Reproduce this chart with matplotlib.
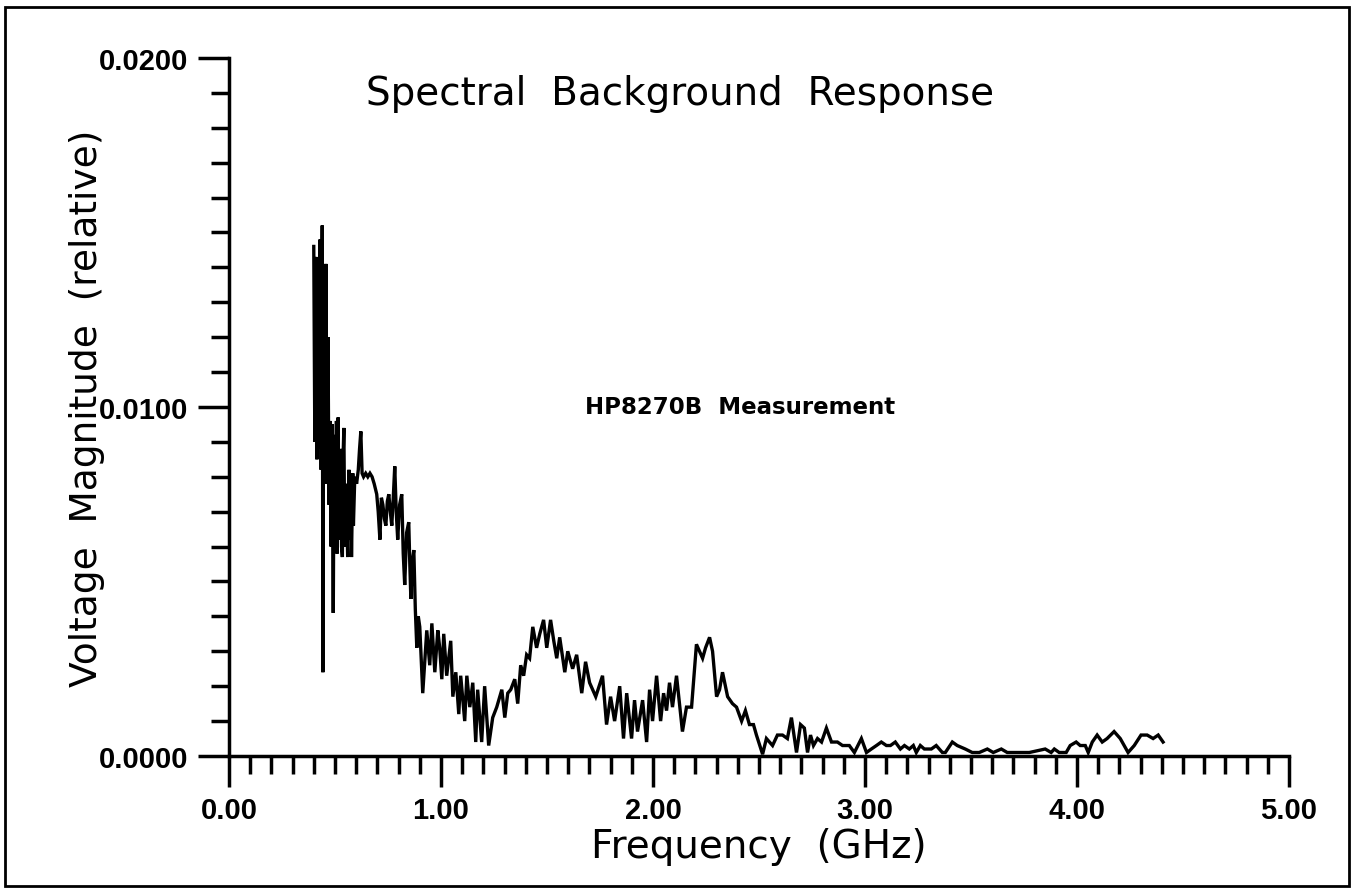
import numpy as np
import matplotlib.pyplot as plt
from matplotlib.patches import Rectangle
from matplotlib.ticker import MultipleLocator, FormatStrFormatter

# HP8270B background sweep: frequency (GHz) and relative magnitude (x 1e-4)
freq_ghz = [
    0.400, 0.405, 0.410, 0.415, 0.420, 0.425, 0.430, 0.435, 0.440, 0.443,
    0.447, 0.452, 0.457, 0.462, 0.467, 0.472, 0.477, 0.482, 0.487, 0.490,
    0.492, 0.495, 0.497, 0.500, 0.502, 0.505, 0.507, 0.510, 0.512, 0.515,
    0.518, 0.522, 0.525, 0.528, 0.531, 0.535, 0.538, 0.542, 0.545, 0.548,
    0.552, 0.555, 0.558, 0.560, 0.563, 0.566, 0.569, 0.572, 0.575, 0.578,
    0.581, 0.584, 0.587, 0.590, 0.593, 0.596, 0.602, 0.610, 0.616, 0.622,
    0.628, 0.635, 0.645, 0.655, 0.665, 0.675, 0.685, 0.697, 0.704, 0.712,
    0.719, 0.726, 0.733, 0.740, 0.747, 0.754, 0.761, 0.768, 0.775, 0.782,
    0.789, 0.796, 0.805, 0.815, 0.822, 0.829, 0.838, 0.848, 0.853, 0.858,
    0.865, 0.872, 0.879, 0.886, 0.893, 0.900, 0.914, 0.933, 0.947, 0.957,
    0.971, 0.985,
    0.994, 1.004, 1.013, 1.027, 1.046, 1.056, 1.070, 1.084, 1.093, 1.112,
    1.122, 1.136, 1.150, 1.164, 1.173, 1.192, 1.206, 1.225, 1.244, 1.263,
    1.287, 1.301, 1.315, 1.329, 1.348, 1.362, 1.376, 1.390, 1.404, 1.418,
    1.433, 1.451, 1.466, 1.484, 1.499, 1.517, 1.532, 1.546, 1.560, 1.584,
    1.598, 1.621, 1.640, 1.664, 1.682, 1.701, 1.730, 1.762, 1.781, 1.800,
    1.819, 1.843, 1.861, 1.876, 1.899, 1.913, 1.927, 1.951, 1.970, 1.984,
    1.998, 2.017, 2.036, 2.050, 2.064, 2.078, 2.092, 2.111, 2.130, 2.139,
    2.158, 2.182, 2.205, 2.234, 2.248, 2.267, 2.281, 2.300, 2.314, 2.328,
    2.352, 2.375, 2.394, 2.418, 2.436, 2.455, 2.474, 2.488, 2.517, 2.535,
    2.564, 2.587, 2.611, 2.634, 2.653, 2.677, 2.696, 2.714, 2.729, 2.743,
    2.757, 2.776, 2.795, 2.818, 2.842, 2.870, 2.894, 2.926, 2.950, 2.983,
    3.007, 3.030, 3.054, 3.077, 3.101, 3.120, 3.143, 3.167, 3.186, 3.209,
    3.228, 3.242, 3.261, 3.280, 3.313, 3.336, 3.365, 3.379, 3.412, 3.435,
    3.473, 3.506, 3.539, 3.577, 3.605, 3.643, 3.671, 3.704, 3.751, 3.775,
    3.850, 3.878, 3.893, 3.916, 3.949, 3.968, 3.996, 4.015, 4.039, 4.053,
    4.072, 4.095, 4.119, 4.142, 4.175, 4.204, 4.241, 4.270, 4.302, 4.331,
    4.359, 4.383, 4.406,
]
magnitude_e4 = [
    146, 90, 143, 85, 138, 88, 148, 82, 152, 24,
    130, 80, 141, 78, 120, 72, 96, 60, 95, 62,
    41, 80, 92, 64, 75, 88, 96, 58, 70, 97,
    66, 62, 88, 80, 60, 57, 85, 94, 70, 60,
    78, 75, 62, 57, 72, 82, 68, 62, 76, 57,
    70, 81, 66, 73, 79, 80, 78, 82, 88, 93,
    81, 80, 81, 80, 81, 80, 78, 75, 70, 62,
    74, 72, 68, 66, 73, 75, 70, 66, 74, 83,
    70, 62, 72, 75, 58, 49, 64, 67, 55, 45,
    56, 59, 42, 31, 40, 37, 18, 36, 26, 38,
    24, 36,
    31, 22, 35, 23, 33, 17, 24, 12, 23, 10,
    23, 14, 21, 4, 19, 4, 20, 3, 11, 14,
    19, 11, 18, 19, 22, 15, 26, 23, 29, 28,
    37, 31, 35, 39, 31, 39, 33, 28, 34, 24,
    30, 25, 29, 18, 27, 21, 17, 23, 9, 17,
    10, 20, 5, 18, 5, 16, 7, 16, 4, 19,
    10, 23, 10, 18, 13, 21, 14, 23, 12, 7,
    14, 14, 32, 28, 31, 34, 30, 17, 19, 24,
    17, 15, 14, 10, 13, 9, 9, 6, 0.5, 5,
    3, 6, 6, 5, 11, 1, 9, 8, 1, 6,
    3, 5, 4, 8, 4, 4, 3, 3, 1, 5,
    1, 2, 3, 4, 3, 3, 4, 2, 3, 2,
    3, 1, 3, 2, 2, 3, 1, 1, 4, 3,
    2, 1, 1, 2, 1, 2, 1, 1, 1, 1,
    2, 1, 2, 1, 1, 3, 4, 3, 3, 1,
    4, 6, 4, 5, 7, 5, 1, 3, 6, 6,
    5, 6, 4,
]
assert len(freq_ghz) == len(magnitude_e4)

x_ticks = [0, 1, 2, 3, 4, 5]
y_ticks = [0.0, 0.01, 0.02]

freq = np.array(freq_ghz)
mag = np.array(magnitude_e4) * 1e-4

fig = plt.figure(figsize=(13.54, 8.95), dpi=100)
ax = fig.add_axes([0.1691, 0.1542, 0.7829, 0.7799])

ax.plot(freq, mag, color="black", lw=2.4, solid_joinstyle="miter")

ax.set_xlim(0, 5)
ax.set_ylim(0, 0.02)
ax.set_xticks(x_ticks)
ax.set_yticks(y_ticks)
ax.xaxis.set_minor_locator(MultipleLocator(0.1))
ax.yaxis.set_minor_locator(MultipleLocator(0.001))
ax.xaxis.set_major_formatter(FormatStrFormatter("%.2f"))
ax.yaxis.set_major_formatter(FormatStrFormatter("%.4f"))

for side in ("top", "right"):
    ax.spines[side].set_visible(False)
for side in ("left", "bottom"):
    ax.spines[side].set_linewidth(2.5)

ax.tick_params(which="major", direction="out", length=22, width=2.5, pad=7)
ax.tick_params(which="minor", direction="out", length=13, width=2.5)
for lbl in ax.get_xticklabels() + ax.get_yticklabels():
    lbl.set_family("Liberation Sans")
    lbl.set_fontweight("bold")
    lbl.set_fontsize(21)

ax.set_xlabel("Frequency  (GHz)", fontsize=28, labelpad=2)
ax.set_ylabel("Voltage  Magnitude  (relative)", fontsize=27)
ax.yaxis.set_label_coords(-0.117, 0.5)

ax.text(2.13, 0.0190, "Spectral  Background  Response", fontsize=28,
        ha="center", va="center")
ax.text(2.41, 0.0100, "HP8270B  Measurement", fontsize=16.5, fontweight="bold",
        ha="center", va="center")

# page border
fig.add_artist(Rectangle((0.004, 0.009), 0.992, 0.982, transform=fig.transFigure,
                         fill=False, lw=2, edgecolor="black"))

plt.savefig("out.png", dpi=100)
plt.close()
